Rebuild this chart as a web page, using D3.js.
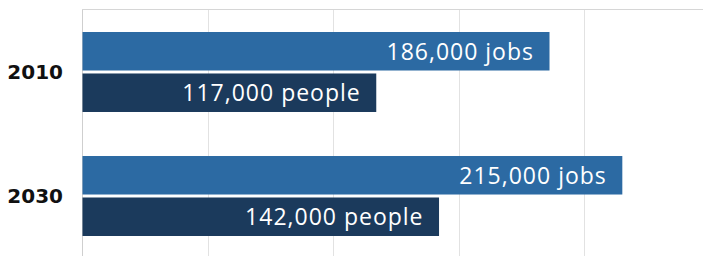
<!DOCTYPE html>
<html>
<head>
<meta charset="utf-8">
<script src="https://cdn.jsdelivr.net/npm/d3@7"></script>
<style>
  html, body { margin: 0; padding: 0; background: #fff; }
  svg { display: block; }
</style>
</head>
<body>
<svg id="chart" width="703" height="256"></svg>
<script>
const years = ["2010", "2030"];
const seriesKeys = ["jobs", "people"];
const jobsValues = [186000, 215000];
const peopleValues = [117000, 142000];
const seriesUnits = ["jobs", "people"];
const xTicks = [0, 50000, 100000, 150000, 200000, 250000];

const data = years.map((y, i) => ({
  year: y,
  values: [
    { key: "jobs", value: jobsValues[i], unit: seriesUnits[0] },
    { key: "people", value: peopleValues[i], unit: seriesUnits[1] }
  ]
}));

const colors = d3.scaleOrdinal().domain(seriesKeys).range(["#2c6aa3", "#1b3a5c"]);

const svg = d3.select("#chart");
const marginLeft = 82, marginTop = 9;

const x = d3.scaleLinear().domain([0, 250000]).range([marginLeft, marginLeft + 627.7]);
const y0 = d3.scaleBand().domain(years).range([9, 259]).paddingInner(0.355).paddingOuter(0.1855);
const y1 = d3.scaleBand().domain(seriesKeys).range([0, y0.bandwidth()]).paddingInner(0.072);

// grid
svg.append("g").selectAll("line").data(xTicks).join("line")
  .attr("x1", d => Math.round(x(d)) + 0.5).attr("x2", d => Math.round(x(d)) + 0.5)
  .attr("y1", marginTop).attr("y2", 256)
  .attr("stroke", d => d === 0 ? "#cfcfcf" : "#e2e2e2").attr("stroke-width", 1);

svg.append("line")
  .attr("x1", marginLeft).attr("x2", 703).attr("y1", marginTop + 0.5).attr("y2", marginTop + 0.5)
  .attr("stroke", "#d6d6d6").attr("stroke-width", 1);

const groups = svg.append("g").selectAll("g").data(data).join("g")
  .attr("transform", d => `translate(0,${y0(d.year)})`);

groups.selectAll("rect").data(d => d.values).join("rect")
  .attr("x", x(0) + 0.5)
  .attr("y", d => y1(d.key))
  .attr("width", d => x(d.value) - x(0))
  .attr("height", y1.bandwidth())
  .attr("fill", d => colors(d.key));

groups.selectAll("text.val").data(d => d.values).join("text")
  .attr("class", "val")
  .attr("x", d => x(d.value) - 15)
  .attr("y", d => y1(d.key) + y1.bandwidth() / 2)
  .attr("dy", "0.36em")
  .attr("text-anchor", "end")
  .attr("fill", "#ffffff")
  .attr("font-family", "'Open Sans', sans-serif")
  .attr("font-size", 23)
  .attr("letter-spacing", "1px")
  .text(d => d3.format(",")(d.value) + " " + d.unit);

svg.append("g").selectAll("text").data(years).join("text")
  .attr("x", 63)
  .attr("y", d => y0(d) + y0.bandwidth() / 2)
  .attr("dy", "0.36em")
  .attr("text-anchor", "end")
  .attr("fill", "#111")
  .attr("font-family", "'DejaVu Sans', sans-serif")
  .attr("font-weight", "bold")
  .attr("font-size", 20)
  .text(d => d);
</script>
</body>
</html>
